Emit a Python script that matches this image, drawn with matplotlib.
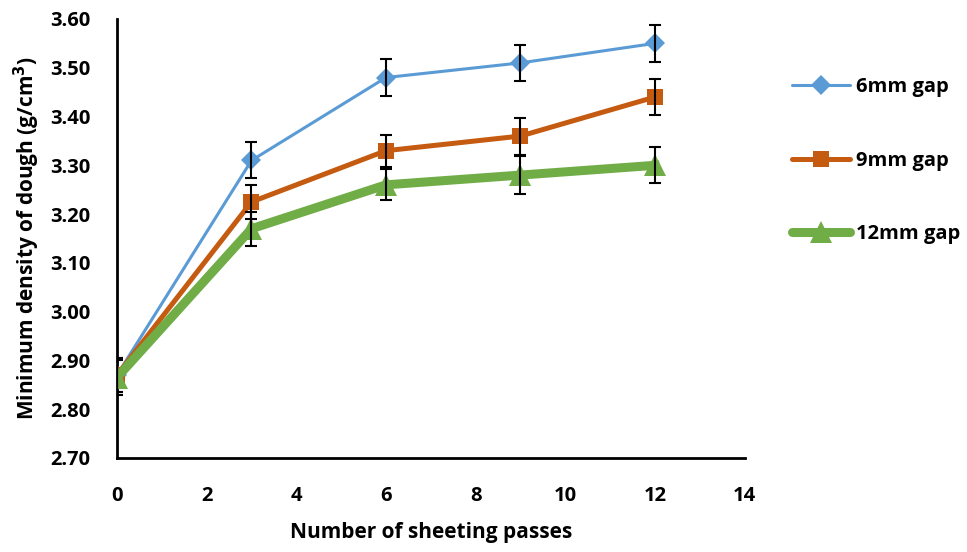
import matplotlib.pyplot as plt
from matplotlib.lines import Line2D

# sheeting passes and measured minimum density for each roll gap
passes = [0, 3, 6, 9, 12]
gap_6mm = [2.87, 3.31, 3.48, 3.51, 3.55]
gap_9mm = [2.87, 3.225, 3.33, 3.36, 3.44]
gap_12mm = [2.865, 3.17, 3.26, 3.28, 3.30]
err_6mm = [0.035, 0.037, 0.038, 0.037, 0.038]
err_9mm = [0.035, 0.035, 0.033, 0.038, 0.037]
err_12mm = [0.035, 0.035, 0.032, 0.039, 0.037]
labels = ["6mm gap", "9mm gap", "12mm gap"]

plt.rcParams['font.family'] = ['Open Sans', 'DejaVu Sans']
plt.rcParams['font.weight'] = 'bold'

fig = plt.figure(figsize=(9.67, 5.52), dpi=100)
ax = fig.add_axes([0.121, 0.1703, 0.649, 0.7953])

styles = [
    (gap_6mm, err_6mm, '#5B9BD5', 'D', 2.2, 10),
    (gap_9mm, err_9mm, '#C55A11', 's', 3.6, 11),
    (gap_12mm, err_12mm, '#70AD47', '^', 6.5, 16),
]
handles = []
for (vals, err, col, mk, lw, ms), lab in zip(styles, labels):
    ax.plot(passes, vals, color=col, marker=mk, lw=lw, ms=ms,
            markeredgewidth=0, zorder=3)
    ax.errorbar(passes, vals, yerr=err, fmt='none', ecolor='black',
                elinewidth=1.5, capsize=4, capthick=1.5, zorder=4)
    handles.append(Line2D([], [], color=col, marker=mk, lw=lw, ms=ms,
                          markeredgewidth=0, solid_capstyle='round'))

ax.set_xlim(0, 14)
ax.set_ylim(2.70, 3.60)
ax.set_xticks(range(0, 15, 2))
ax.set_yticks([2.7 + 0.1 * i for i in range(10)])
ax.set_yticklabels([f"{2.7 + 0.1 * i:.2f}" for i in range(10)])
ax.tick_params(length=0, labelsize=14.5)
ax.tick_params(axis='x', pad=20)
ax.tick_params(axis='y', pad=19)
for t in ax.get_xticklabels() + ax.get_yticklabels():
    t.set_fontweight('bold')

ax.spines['top'].set_visible(False)
ax.spines['right'].set_visible(False)
ax.spines['left'].set_linewidth(2)
ax.spines['bottom'].set_linewidth(2)

ax.set_xlabel("Number of sheeting passes", fontsize=15, fontweight='bold', labelpad=12)
ax.set_ylabel("Minimum density of dough (g/cm$^\\mathbf{3}$)", fontsize=15,
              fontweight='bold', labelpad=6)

fig.legend(handles, labels, loc='upper left', bbox_to_anchor=(0.8, 0.893),
           frameon=False, labelspacing=2.65, handlelength=2.9,
           handletextpad=0.3, prop={'weight': 'bold', 'size': 14.5})

fig.savefig("out.png", dpi=100)
